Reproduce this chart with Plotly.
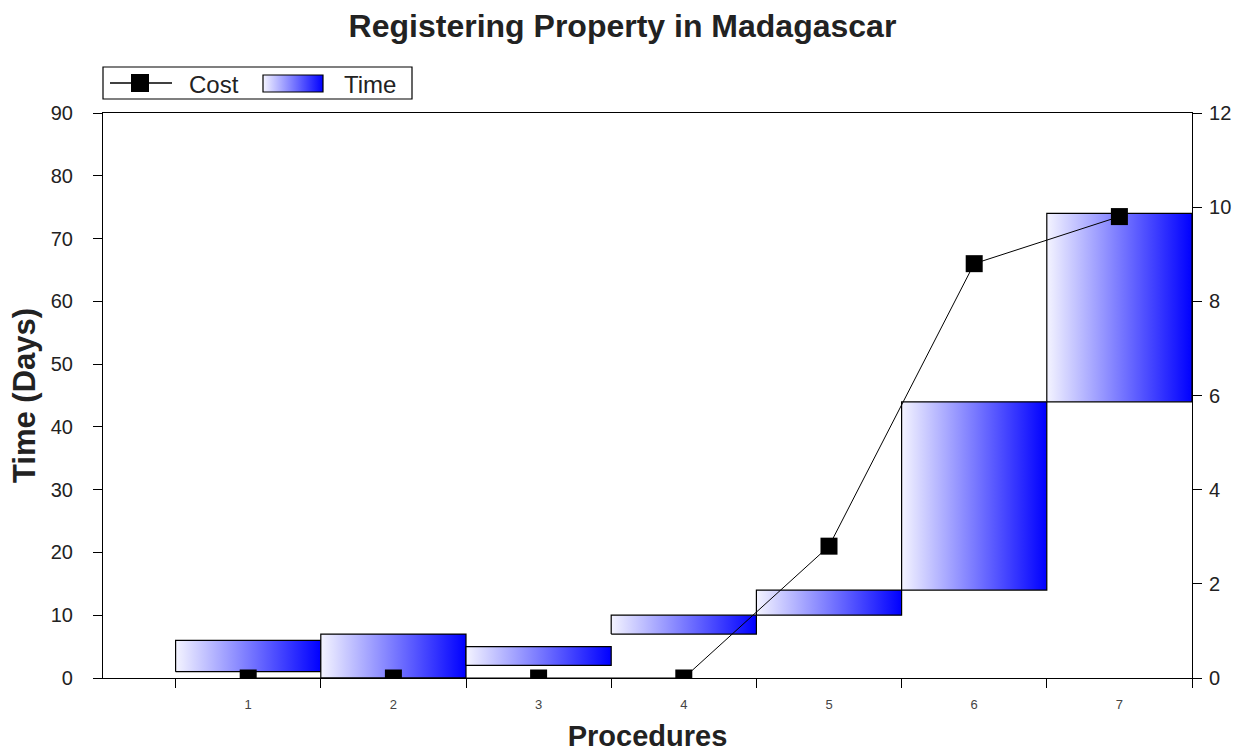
import base64
import plotly.graph_objects as go

# Procedure data
procedures = [1, 2, 3, 4, 5, 6, 7]
proc_labels = ["1", "2", "3", "4", "5", "6", "7"]
time_start = [1, 0, 2, 7, 10, 14, 44]    # days
time_end = [6, 7, 5, 10, 14, 44, 74]     # days
cost = [0, 0, 0, 0, 2.8, 8.8, 9.8]       # cost, right axis

FONT = "Liberation Sans, Arial, sans-serif"
LIGHT, DARK = "#f4f4ff", "#0000ff"
grad = [[0, LIGHT], [1, DARK]]

# plot area in pixels (used to place the legend box in paper units)
W, H = 1240, 753
L, R, T, B = 103, 48, 113, 75
PW, PH = W - L - R, H - T - B


def px(xp):
    return (xp - L) / PW


def py(yp):
    return (H - B - yp) / PH


fig = go.Figure()

# Floating time blocks, one per procedure, filled with a horizontal gradient
for p, s, e in zip(procedures, time_start, time_end):
    x0, x1 = p - 0.5, p + 0.5
    fig.add_trace(go.Scatter(
        x=[x0, x1, x1, x0, x0],
        y=[s, s, e, e, s],
        mode="lines",
        fill="toself",
        fillgradient=dict(type="horizontal", colorscale=grad),
        line=dict(color="black", width=1.2),
        name="Time",
        showlegend=False,
        hoverinfo="skip",
    ))

# Cost line on the secondary axis
fig.add_trace(go.Scatter(
    x=procedures,
    y=cost,
    mode="lines+markers",
    line=dict(color="black", width=1),
    marker=dict(symbol="square", size=17, color="black"),
    name="Cost",
    yaxis="y2",
    showlegend=False,
))

# Legend box drawn by hand: line+marker for Cost, gradient swatch for Time
NOFILL = "rgba(0,0,0,0)"
shapes = [
    dict(type="rect", xref="paper", yref="paper",
         x0=px(103), x1=px(412), y0=py(99), y1=py(67),
         line=dict(color="black", width=1.2), fillcolor=NOFILL, layer="above"),
    dict(type="line", xref="paper", yref="paper",
         x0=px(110), x1=px(172), y0=py(83), y1=py(83),
         line=dict(color="black", width=1.5), layer="above"),
    dict(type="rect", xref="paper", yref="paper",
         x0=px(131), x1=px(149), y0=py(92), y1=py(74),
         line=dict(color="black", width=0), fillcolor="black", layer="above"),
    dict(type="rect", xref="paper", yref="paper",
         x0=px(263), x1=px(323), y0=py(92), y1=py(75),
         line=dict(color="black", width=1.2), fillcolor=NOFILL, layer="above"),
]

svg = (
    '<svg xmlns="http://www.w3.org/2000/svg" width="60" height="17" '
    'viewBox="0 0 60 17" preserveAspectRatio="none">'
    '<defs><linearGradient id="g" x1="0" x2="1" y1="0" y2="0">'
    f'<stop offset="0" stop-color="{LIGHT}"/><stop offset="1" stop-color="{DARK}"/>'
    '</linearGradient></defs><rect width="60" height="17" fill="url(#g)"/></svg>'
)
swatch = "data:image/svg+xml;base64," + base64.b64encode(svg.encode()).decode()

annotations = [
    dict(text="Cost", xref="paper", yref="paper", x=px(187), y=py(84),
         xanchor="left", yanchor="middle", showarrow=False,
         font=dict(size=24, color="#222")),
    dict(text="Time", xref="paper", yref="paper", x=px(342), y=py(84),
         xanchor="left", yanchor="middle", showarrow=False,
         font=dict(size=24, color="#222")),
]

fig.update_layout(
    width=W,
    height=H,
    margin=dict(l=L, r=R, t=T, b=B, autoexpand=False),
    paper_bgcolor="white",
    plot_bgcolor="white",
    font=dict(family=FONT, color="#222"),
    title=dict(
        text="<b>Registering Property in Madagascar</b>",
        x=0.502, xanchor="center", y=0.966, yanchor="middle",
        font=dict(size=32, color="#222"),
    ),
    showlegend=False,
    shapes=shapes,
    annotations=annotations,
    images=[dict(source=swatch, xref="paper", yref="paper",
                 x=px(263), y=py(75), sizex=px(323) - px(263),
                 sizey=py(75) - py(92), xanchor="left", yanchor="top",
                 sizing="stretch", layer="above")],
    xaxis=dict(
        range=[0, 7.5],
        automargin=False,
        tickvals=procedures,
        ticktext=proc_labels,
        ticks="",
        ticklabelstandoff=14,
        tickfont=dict(size=13, color="#444"),
        showgrid=False,
        zeroline=False,
        showline=True,
        linecolor="black",
        linewidth=1.2,
        mirror=True,
        minor=dict(tick0=0.5, dtick=1, ticks="outside", ticklen=9,
                   tickcolor="black", tickwidth=1, showgrid=False),
        title=dict(text="<b>Procedures</b>", font=dict(size=29, color="#222"),
                   standoff=14),
    ),
    yaxis=dict(
        range=[0, 90],
        automargin=False,
        dtick=10,
        ticks="outside",
        ticklen=9,
        tickcolor="black",
        ticklabelstandoff=16,
        tickfont=dict(size=20, color="#222"),
        showgrid=False,
        zeroline=False,
        showline=True,
        linecolor="black",
        linewidth=1.2,
        title=dict(text="<b>Time (Days)</b>", font=dict(size=31, color="#222"),
                   standoff=5),
    ),
    yaxis2=dict(
        range=[0, 12],
        automargin=False,
        dtick=2,
        overlaying="y",
        side="right",
        ticks="outside",
        ticklen=9,
        tickcolor="black",
        ticklabelstandoff=3,
        tickfont=dict(size=20, color="#222"),
        showgrid=False,
        zeroline=False,
        showline=True,
        linecolor="black",
        linewidth=1.2,
    ),
)

fig.write_html("out.html")
